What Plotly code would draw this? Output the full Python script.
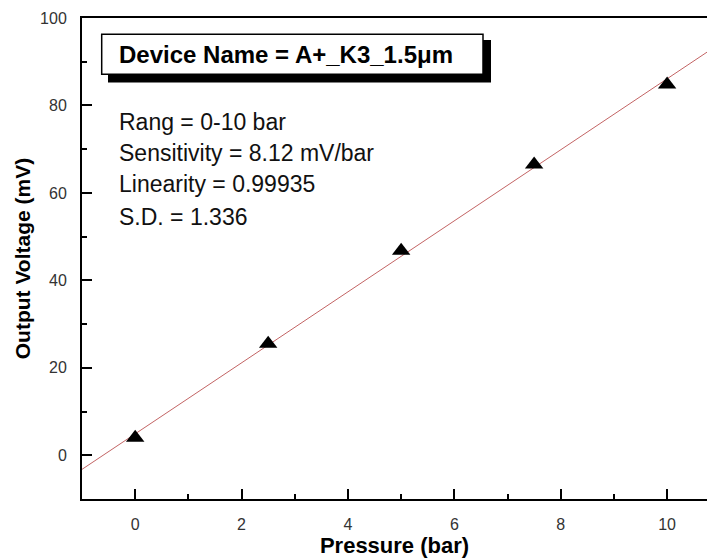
import plotly.graph_objects as go

# ---- data ----
pressure_bar = [0, 2.5, 5, 7.5, 10]
output_mv = [4.0, 25.5, 46.8, 66.5, 84.8]
fit_slope = 8.12      # mV/bar (from the chart text)
fit_intercept = 4.9   # mV
x_ticks = [0, 2, 4, 6, 8, 10]
y_ticks = [0, 20, 40, 60, 80, 100]
device_label = "Device Name = A+_K3_1.5μm"
stats_lines = [
    "Rang = 0-10 bar",
    "Sensitivity = 8.12 mV/bar",
    "Linearity = 0.99935",
    "S.D. = 1.336",
]

# ---- layout constants ----
W, H = 707, 558
ML, MR, MT, MB = 82, 0, 18, 59
x_range = [-1, 10.75]
y_range = [-10, 100]
PW, PH = W - ML - MR, H - MT - MB


def px_x(px):
    return (px - ML) / PW


def px_y(py):
    return (H - MB - py) / PH


fit_x = list(x_range)
fit_y = [fit_intercept + fit_slope * v for v in fit_x]

fig = go.Figure()
fig.add_trace(go.Scatter(
    x=fit_x, y=fit_y, mode="lines",
    line=dict(color="rgb(195,100,100)", width=1),
    showlegend=False, hoverinfo="skip",
))
fig.add_trace(go.Scatter(
    x=pressure_bar, y=output_mv, mode="markers",
    marker=dict(symbol="triangle-up", size=16, color="black"),
    showlegend=False,
))

# boxed device label with drop shadow
fig.add_shape(type="rect", xref="paper", yref="paper",
              x0=px_x(108), x1=px_x(491), y0=px_y(82.5), y1=px_y(40),
              fillcolor="black", line=dict(width=0), layer="above")
fig.add_shape(type="rect", xref="paper", yref="paper",
              x0=px_x(101.7), x1=px_x(483), y0=px_y(74.3), y1=px_y(34.3),
              fillcolor="white", line=dict(color="black", width=1.5), layer="above")

annotations = [dict(
    text=device_label, xref="paper", yref="paper",
    x=px_x(116.5), y=px_y(55), xanchor="left", yanchor="middle",
    showarrow=False,
    font=dict(family="Liberation Sans, Arial, sans-serif", size=24, color="black", weight="bold"),
)]
line_y_px = [122, 152.5, 184, 217]
for txt, ypx in zip(stats_lines, line_y_px):
    annotations.append(dict(
        text=txt, xref="paper", yref="paper",
        x=px_x(116.5), y=px_y(ypx), xanchor="left", yanchor="middle",
        showarrow=False,
        font=dict(family="Liberation Sans, Arial, sans-serif", size=23, color="#111"),
    ))

axis_font = dict(family="Liberation Sans, Arial, sans-serif", size=16, color="#333")
title_font = dict(family="Liberation Sans, Arial, sans-serif", size=22, color="black", weight="bold")

fig.update_layout(
    width=W, height=H,
    margin=dict(l=ML, r=MR, t=MT, b=MB, pad=0),
    paper_bgcolor="white", plot_bgcolor="white",
    annotations=annotations,
    xaxis=dict(
        range=x_range, tickmode="array", tickvals=x_ticks,
        ticks="inside", ticklen=10, tickwidth=2, tickcolor="black",
        minor=dict(dtick=1, tick0=0, ticks="inside", ticklen=5, tickwidth=2, tickcolor="black", showgrid=False),
        showline=True, linecolor="black", linewidth=2, mirror=True,
        showgrid=False, zeroline=False,
        tickfont=axis_font, ticklabelstandoff=10,
        title=dict(text="Pressure (bar)", font=title_font, standoff=2),
    ),
    yaxis=dict(
        range=y_range, tickmode="array", tickvals=y_ticks,
        ticks="inside", ticklen=10, tickwidth=2, tickcolor="black",
        minor=dict(dtick=10, tick0=0, ticks="inside", ticklen=5, tickwidth=2, tickcolor="black", showgrid=False),
        showline=True, linecolor="black", linewidth=2,
        showgrid=False, zeroline=False,
        tickfont=axis_font, ticklabelstandoff=10,
        title=dict(text="Output Voltage (mV)", font=dict(title_font, size=21), standoff=4),
    ),
)

fig.write_html(
    "out.html",
    config={"displayModeBar": False},
    post_script="document.body.style.margin='0';document.body.style.overflow='hidden';",
)
